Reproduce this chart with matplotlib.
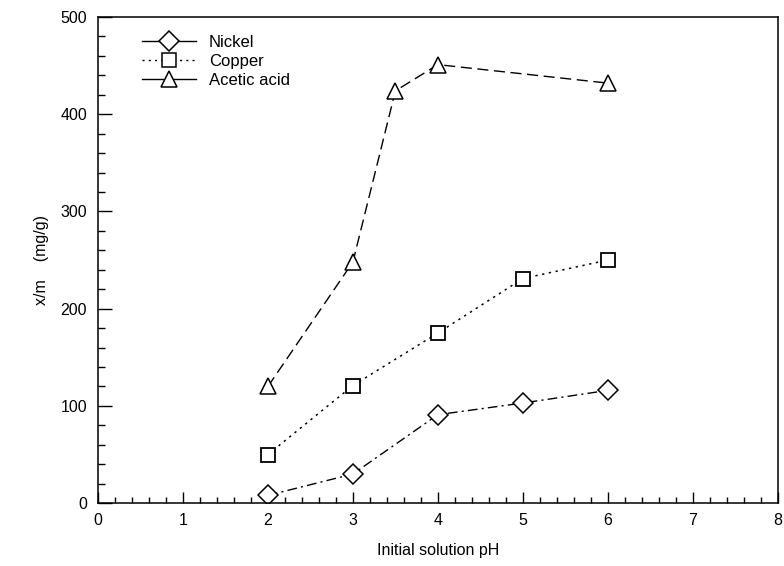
import matplotlib
matplotlib.use("Agg")
import matplotlib.pyplot as plt
from matplotlib.lines import Line2D
from matplotlib.ticker import MultipleLocator

plt.rcParams['font.family'] = ['Liberation Sans', 'DejaVu Sans']

# pH values
ph_metal = [2, 3, 4, 5, 6]
ph_acetic = [2, 3, 3.5, 4, 6]

# x/m (mg/g)
nickel = [8, 30, 91, 103, 116]
copper = [50, 121, 175, 231, 250]
acetic = [120, 248, 424, 451, 432]

labels = ['Nickel', 'Copper', 'Acetic acid']
markers = ['D', 's', '^']
msizes = [10, 10, 11]

fig = plt.figure(figsize=(7.84, 5.66), dpi=100)
ax = fig.add_axes([0.125, 0.111, 0.867, 0.859])

mk = dict(markerfacecolor='white', markeredgecolor='black')
ax.plot(ph_metal, nickel, color='black', lw=1.0, linestyle=(0, (7, 3, 1.5, 3)),
        marker='D', markersize=10, markeredgewidth=1.1, **mk)
ax.plot(ph_metal, copper, color='black', lw=1.1, linestyle=(0, (1.5, 3)),
        marker='s', markersize=10, markeredgewidth=1.3, **mk)
ax.plot(ph_acetic, acetic, color='black', lw=1.0, linestyle=(0, (8, 4)),
        marker='^', markersize=11, markeredgewidth=1.1, **mk)

# legend keys as drawn in the original (solid, dotted, solid)
legend_styles = ['-', (0, (1.5, 3)), '-']
handles = [Line2D([], [], color='black', lw=1.0, linestyle=ls, marker=m,
                  markersize=s, markeredgewidth=1.1, **mk)
           for ls, m, s in zip(legend_styles, markers, msizes)]

ax.set_xlim(0, 8)
ax.set_ylim(0, 500)
ax.xaxis.set_major_locator(MultipleLocator(1))
ax.xaxis.set_minor_locator(MultipleLocator(0.2))
ax.yaxis.set_major_locator(MultipleLocator(100))
ax.yaxis.set_minor_locator(MultipleLocator(20))

ax.tick_params(axis='both', which='both', direction='in', top=False, right=False,
               labelsize=11.5, width=1)
ax.tick_params(axis='y', which='major', length=10, pad=8)
ax.tick_params(axis='y', which='minor', length=5)
ax.tick_params(axis='x', which='major', length=8, pad=7)
ax.tick_params(axis='x', which='minor', length=4)
for s in ax.spines.values():
    s.set_linewidth(1.1)

ax.set_xlabel('Initial solution pH', fontsize=11.5, labelpad=11)
ax.set_ylabel('x/m    (mg/g)', fontsize=11.5, labelpad=8)

ax.legend(handles, labels, loc='upper left', bbox_to_anchor=(0.065, 0.963),
          frameon=False, fontsize=12, handlelength=3.2, handletextpad=0.8,
          labelspacing=0.25, borderpad=0, borderaxespad=0)

fig.savefig('out.png', dpi=100)
